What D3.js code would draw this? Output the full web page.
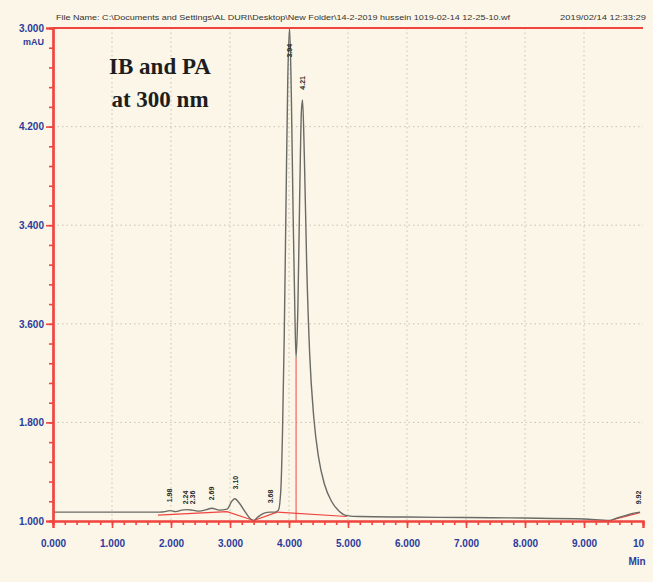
<!DOCTYPE html>
<html>
<head>
<meta charset="utf-8">
<script src="https://cdn.jsdelivr.net/npm/d3@7"></script>
<style>
  body { margin: 0; background: #fbf6e7; }
  svg { display: block; }
</style>
</head>
<body>
<div id="chart"></div>
<script>
// ===== data ====================================================================
const traceTime = [0.00, 1.00, 1.80, 1.90, 1.98, 2.08, 2.18, 2.26, 2.36, 2.48, 2.60, 2.69, 2.82, 2.95, 3.03, 3.08,
                   3.16, 3.26, 3.35, 3.40, 3.48, 3.58, 3.68, 3.76, 3.82, 3.86, 3.89, 3.92, 3.95, 3.98, 4.01,
                   4.04, 4.07, 4.10, 4.12, 4.15, 4.18, 4.21, 4.23, 4.26, 4.30, 4.35, 4.42, 4.50, 4.60, 4.72,
                   4.85, 4.98, 5.20, 6.00, 7.00, 8.00, 9.00, 9.44, 9.55, 9.70, 9.85, 9.95];
const traceMAU  = [18, 18, 18, 19, 21, 19, 22, 23, 22, 20, 23, 26, 22, 24, 40, 45,
                   36, 18, 4, 1, 9, 16, 18, 18, 22, 60, 180, 380, 650, 900, 1000,
                   860, 620, 420, 331, 430, 650, 830, 854, 740, 520, 340, 210, 130, 75, 40,
                   20, 11, 9, 8, 7, 6, 4, 1, 6, 11, 16, 18];

// integration baselines (red)
const baseTime = [[1.78, 2.95, 3.40, 3.80], [3.80, 4.98], [9.44, 9.95]];
const baseMAU  = [[12, 19, 1, 18], [18, 9], [1, 17]];

const peakTime   = [1.98, 2.24, 2.36, 2.69, 3.10, 3.68, 4.01, 4.23, 9.92];
const peakLabels = ['1.98', '2.24', '2.36', '2.69', '3.10', '3.68', '3.94', '4.21', '9.92'];
const peakLevel  = [38, 34, 34, 42, 64, 36, 940, 875, 34];

const xTicks = [0, 1, 2, 3, 4, 5, 6, 7, 8, 9, 10];
const xTickLabels = ['0.000', '1.000', '2.000', '3.000', '4.000', '5.000', '6.000', '7.000', '8.000', '9.000', '10'];
const yTicks = [0, 200, 400, 600, 800, 1000];
const yTickLabels = ['1.000', '1.800', '3.600', '3.400', '4.200', '3.000'];

const splitTime = 4.12;   // drop line between the two main peaks
const splitMAU = 331;

// ===== layout ==================================================================
const svgWidth = 653;
const svgHeight = 582;
const red = '#f0443f';
const blue = '#2c3b9c';

const svg = d3.select('#chart').append('svg')
    .attr('width', svgWidth)
    .attr('height', svgHeight);

svg.append('rect')
    .attr('width', svgWidth).attr('height', svgHeight)
    .attr('fill', '#fbf6e7');

const xScale = d3.scaleLinear().domain([0, 10]).range([53, 643]);
const yScale = d3.scaleLinear().domain([0, 1000]).range([521, 28]);

// header
svg.append('text')
    .attr('x', 56).attr('y', 20)
    .attr('font-family', 'Liberation Sans Narrow, Liberation Sans, sans-serif')
    .attr('font-size', 7.5).attr('fill', '#333')
    .attr('textLength', 454).attr('lengthAdjust', 'spacingAndGlyphs')
    .text('File Name: C:\\Documents and Settings\\AL DURI\\Desktop\\New Folder\\14-2-2019 hussein 1019-02-14 12-25-10.wf');
svg.append('text')
    .attr('x', 560).attr('y', 20)
    .attr('font-family', 'Liberation Sans Narrow, Liberation Sans, sans-serif')
    .attr('font-size', 7.5).attr('fill', '#333')
    .attr('textLength', 86).attr('lengthAdjust', 'spacingAndGlyphs')
    .text('2019/02/14 12:33:29');

// grid
const grid = svg.append('g')
    .attr('stroke', '#c9c3b3').attr('stroke-width', 1).attr('stroke-dasharray', '1.5,3');
grid.selectAll('.vg').data(xTicks.slice(1, 10)).enter().append('line')
    .attr('x1', d => xScale(d)).attr('x2', d => xScale(d))
    .attr('y1', yScale(1000)).attr('y2', yScale(0));
grid.selectAll('.hg').data(yTicks.slice(1, 5)).enter().append('line')
    .attr('x1', xScale(0)).attr('x2', xScale(10))
    .attr('y1', d => yScale(d)).attr('y2', d => yScale(d));

// title
const title = svg.append('text')
    .attr('font-family', 'Liberation Serif, DejaVu Serif, serif')
    .attr('font-weight', 'bold').attr('font-size', 23)
    .attr('fill', '#1d1d1d').attr('text-anchor', 'middle');
title.append('tspan').attr('x', 160).attr('y', 74).text('IB and PA');
title.append('tspan').attr('x', 160).attr('y', 107).text('at 300 nm');

// red integration baselines and split line
const line = d3.line()
    .x(d => xScale(d[0]))
    .y(d => yScale(d[1]));

baseTime.forEach((ts, i) => {
    svg.append('path')
        .attr('d', line(ts.map((t, j) => [t, baseMAU[i][j]])))
        .attr('fill', 'none').attr('stroke', red).attr('stroke-width', 1.1);
});
svg.append('line')
    .attr('x1', xScale(splitTime)).attr('x2', xScale(splitTime))
    .attr('y1', yScale(0)).attr('y2', yScale(splitMAU))
    .attr('stroke', red).attr('stroke-width', 1.2).attr('opacity', 0.8);

// trace
svg.append('path')
    .datum(traceTime.map((t, i) => [t, traceMAU[i]]))
    .attr('d', d3.line().curve(d3.curveMonotoneX).x(d => xScale(d[0])).y(d => yScale(d[1])))
    .attr('fill', 'none')
    .attr('stroke', '#6a6a66')
    .attr('stroke-width', 1.4);

// peak labels
svg.selectAll('.pk').data(peakTime).enter().append('text')
    .attr('transform', (d, i) => `translate(${xScale(d) + 2.5},${yScale(peakLevel[i])}) rotate(-90)`)
    .attr('font-family', 'Liberation Sans, sans-serif')
    .attr('font-size', 7).attr('font-weight', 'bold')
    .attr('fill', '#2a2a2a')
    .text((d, i) => peakLabels[i]);

// axes
const axisFont = 'Liberation Sans Narrow, Liberation Sans, sans-serif';

const gMinorX = svg.append('g').attr('transform', `translate(0,${yScale(0)})`)
    .call(d3.axisBottom(xScale).tickValues(d3.range(0, 51).map(i => i / 5)).tickSize(4).tickFormat(''));
const gMajorX = svg.append('g').attr('transform', `translate(0,${yScale(0)})`)
    .call(d3.axisBottom(xScale).tickValues(xTicks).tickSize(7).tickPadding(12)
        .tickFormat((d, i) => xTickLabels[i]));
const gMinorY = svg.append('g').attr('transform', `translate(${xScale(0)},0)`)
    .call(d3.axisLeft(yScale).tickValues(d3.range(0, 26).map(i => i * 40)).tickSize(4).tickFormat(''));
const gMajorY = svg.append('g').attr('transform', `translate(${xScale(0)},0)`)
    .call(d3.axisLeft(yScale).tickValues(yTicks).tickSize(7).tickPadding(2)
        .tickFormat((d, i) => yTickLabels[i]));

[gMinorX, gMajorX, gMinorY, gMajorY].forEach(g => {
    g.select('.domain').attr('stroke', red).attr('stroke-width', 2.2);
    g.selectAll('.tick line').attr('stroke', red).attr('stroke-width', 1.6);
    g.selectAll('.tick text')
        .attr('fill', blue)
        .attr('font-family', axisFont)
        .attr('font-size', 10)
        .attr('font-weight', 'bold');
});
gMajorX.selectAll('.tick text').filter((d, i) => i === 10).attr('dx', -5);

svg.append('text')
    .attr('x', xScale(10) - 6).attr('y', 565)
    .attr('text-anchor', 'middle')
    .attr('fill', blue).attr('font-family', axisFont)
    .attr('font-size', 10).attr('font-weight', 'bold')
    .text('Min');
svg.append('text')
    .attr('x', xScale(0) - 9).attr('y', yScale(1000) + 17)
    .attr('text-anchor', 'end')
    .attr('fill', blue).attr('font-family', axisFont)
    .attr('font-size', 9).attr('font-weight', 'bold')
    .text('mAU');

// top frame line
svg.append('line')
    .attr('x1', xScale(0)).attr('x2', xScale(10))
    .attr('y1', yScale(1000)).attr('y2', yScale(1000))
    .attr('stroke', red).attr('stroke-width', 2.2);
</script>
</body>
</html>
